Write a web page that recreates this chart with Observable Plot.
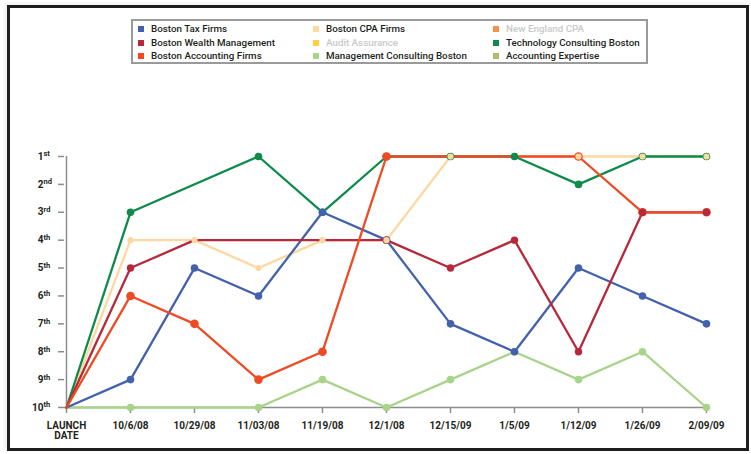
<!DOCTYPE html>
<html>
<head>
<meta charset="utf-8">
<script src="https://cdn.jsdelivr.net/npm/d3@7"></script>
<script src="https://cdn.jsdelivr.net/npm/@observablehq/plot@0.6"></script>
<style>
  html, body { margin: 0; padding: 0; background: #fff; }
  #wrap { position: relative; width: 751px; height: 454px; overflow: hidden; font-family: Roboto, "DejaVu Sans", sans-serif; }
  #frame { position: absolute; left: 7px; top: 5px; width: 742px; height: 446px; box-sizing: border-box; border: 3px solid #1e1e1e; box-shadow: -3px -2px 4px rgba(0,0,0,0.06); }
  #chart { position: absolute; left: 0; top: 0; }
  #legend { position: absolute; left: 131px; top: 19px; width: 517px; height: 45px; box-sizing: border-box; border: 2px solid #9a9a9a; background: #fff; }
  .item { position: absolute; height: 14px; line-height: 14px; font-size: 9.8px; font-weight: 500; white-space: nowrap; color: #231f20; }
  .sw { position: absolute; width: 6px; height: 6px; top: 4px; }
  .lab { position: absolute; left: 13px; top: 0; }
</style>
</head>
<body>
<div id="wrap">
  <div id="frame"></div>
  <div id="chart"></div>
  <div id="legend"></div>
</div>
<script>
// ---- data ----
const dates = ["LAUNCH DATE", "10/6/08", "10/29/08", "11/03/08", "11/19/08", "12/1/08", "12/15/09", "1/5/09", "1/12/09", "1/26/09", "2/09/09"];
const ranks = [1, 2, 3, 4, 5, 6, 7, 8, 9, 10];
const rankSuffix = ["st", "nd", "rd", "th", "th", "th", "th", "th", "th", "th"];

// legend order (column-major)
const legendNames = ["Boston Tax Firms", "Boston Wealth Management", "Boston Accounting Firms",
                     "Boston CPA Firms", "Audit Assurance", "Management Consulting Boston",
                     "New England CPA", "Technology Consulting Boston", "Accounting Expertise"];
const legendColors = ["#4361ad", "#b6283a", "#ee4b25",
                      "#fdd8a0", "#fcd13c", "#a8d48a",
                      "#f59343", "#0e8a4a", "#b3ba72"];
const inactiveNames = ["Audit Assurance", "New England CPA"];

// rank series (null = no point)
const bostonTaxFirms        = [10, 9, 5, 6, 3, 4, 7, 8, 5, 6, 7];
const bostonWealthMgmt      = [10, 5, 4, 4, 4, 4, 5, 4, 8, 3, 3];
const bostonAccounting      = [10, 6, 7, 9, 8, 1, 1, 1, 1, 3, 3];
const bostonCPA             = [10, 4, 4, 5, 4, 4, 1, 1, 1, 1, 1];
const techConsulting        = [10, 3, null, 1, 3, 1, 1, 1, 2, 1, 1];
const mgmtConsulting        = [10, 10, null, 10, 9, 10, 9, 8, 9, 8, 10];

// points drawn without a marker in the original
const unmarked = [
  ["Boston Wealth Management", "10/29/08"], ["Boston Wealth Management", "11/03/08"], ["Boston Wealth Management", "11/19/08"],
  ["Boston Accounting Firms", "12/15/09"], ["Boston Accounting Firms", "1/5/09"],
  ["Boston CPA Firms", "1/5/09"]
];

// line drawing order (bottom to top)
const lineOrder = [
  ["Management Consulting Boston", mgmtConsulting],
  ["Boston CPA Firms", bostonCPA],
  ["Technology Consulting Boston", techConsulting],
  ["Boston Tax Firms", bostonTaxFirms],
  ["Boston Wealth Management", bostonWealthMgmt],
  ["Boston Accounting Firms", bostonAccounting]
];

const rows = [];
for (const [name, vals] of lineOrder) {
  vals.forEach((v, i) => { if (v != null) rows.push({series: name, date: dates[i], rank: v}); });
}
const marked = rows.filter(d => d.date !== dates[0] && !unmarked.some(([s, t]) => s === d.series && t === d.date));
const pick = name => marked.filter(d => d.series === name);

const axisGrey = "#8c8c8c";
const ink = "#231f20";

const chart = Plot.plot({
  width: 751,
  height: 454,
  marginLeft: 64,
  marginRight: 43,
  marginTop: 156,
  marginBottom: 47,
  style: {fontFamily: "Roboto, 'DejaVu Sans', sans-serif", fontSize: "10px", fontWeight: "bold", background: "transparent", overflow: "visible"},
  x: {type: "point", domain: dates, padding: 0},
  y: {domain: [10, 1]},
  color: {domain: legendNames, range: legendColors},
  marks: [
    Plot.ruleY([10], {stroke: axisGrey, strokeWidth: 1.5}),
    Plot.ruleX([dates[0]], {y1: 1, y2: 10, stroke: axisGrey, strokeWidth: 1.5}),
    Plot.axisX({anchor: "bottom", tickSize: 6, tickPadding: 8, stroke: axisGrey, strokeWidth: 1.5, fill: ink,
                tickFormat: d => d === "LAUNCH DATE" ? "LAUNCH\nDATE" : d, label: null, fontVariant: "normal"}),
    Plot.axisY(ranks, {anchor: "left", tickSize: 6, tickPadding: 15, stroke: axisGrey, strokeWidth: 1.5, fill: ink,
                tickFormat: d => String(d), label: null, fontVariant: "normal", fontSize: 10}),
    Plot.text(ranks, {y: d => d, text: (d, i) => rankSuffix[i], frameAnchor: "left", dx: -21, dy: -2.5,
                textAnchor: "start", fontSize: 7.5, fill: ink, fontWeight: "bold"}),
    Plot.line(rows, {x: "date", y: "rank", z: "series", stroke: "series", strokeWidth: 2.3, curve: "linear"}),
    Plot.dot(pick("Management Consulting Boston"), {x: "date", y: "rank", fill: "series", r: 3.8}),
    Plot.dot(pick("Technology Consulting Boston"), {x: "date", y: "rank", fill: "series", r: 3.8}),
    Plot.dot(pick("Boston Tax Firms"), {x: "date", y: "rank", fill: "series", r: 3.8}),
    Plot.dot(pick("Boston Accounting Firms"), {x: "date", y: "rank", fill: "series", r: 4.3}),
    Plot.dot(pick("Boston Wealth Management"), {x: "date", y: "rank", fill: "series", r: 3.7}),
    Plot.dot(pick("Boston CPA Firms"), {x: "date", y: "rank", fill: "series", r: 3.1})
  ]
});
document.getElementById("chart").appendChild(chart);

// ---- legend ----
const legend = document.getElementById("legend");
const colX = [5, 180, 360];     // relative to legend box
const rowY = [1, 14.5, 28];
legendNames.forEach((name, i) => {
  const c = Math.floor(i / 3), r = i % 3;
  const item = document.createElement("div");
  item.className = "item";
  item.style.left = colX[c] + "px";
  item.style.top = rowY[r] + "px";
  if (inactiveNames.includes(name)) item.style.color = "#c9c9c9";
  const sw = document.createElement("div");
  sw.className = "sw";
  sw.style.background = legendColors[i];
  const lab = document.createElement("span");
  lab.className = "lab";
  lab.textContent = name;
  item.appendChild(sw);
  item.appendChild(lab);
  legend.appendChild(item);
});
</script>
</body>
</html>
